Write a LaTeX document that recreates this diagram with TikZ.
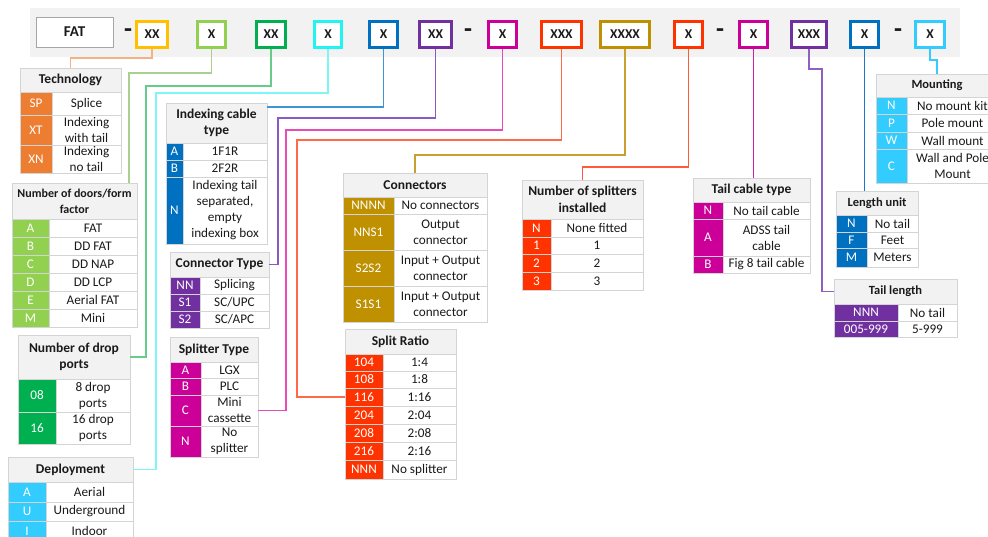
\documentclass[tikz,border=0pt]{standalone}
\usepackage{fontspec}
\setmainfont{Carlito}
\usetikzlibrary{calc}
\definecolor{gridc}{HTML}{D4D4D4}
\definecolor{hdrc}{HTML}{F2F2F2}
\definecolor{barc}{HTML}{F2F2F2}
\definecolor{txtc}{HTML}{1A1A1A}
\definecolor{corange}{HTML}{ED7D31}
\definecolor{cyellow}{HTML}{FFC000}
\definecolor{clgreen}{HTML}{92D050}
\definecolor{cgreen}{HTML}{00B050}
\definecolor{ccyan}{HTML}{22F4F4}
\definecolor{cblue}{HTML}{0070C0}
\definecolor{cpurple}{HTML}{7030A0}
\definecolor{cmag}{HTML}{CC0099}
\definecolor{cred}{HTML}{FF3300}
\definecolor{cgold}{HTML}{BF9000}
\definecolor{csky}{HTML}{33CCFF}
\definecolor{l1}{HTML}{F4B183}
\definecolor{l2}{HTML}{A9D18E}
\definecolor{l3}{HTML}{66CC88}
\definecolor{l4}{HTML}{7FF6F6}
\definecolor{l5}{HTML}{3E95D6}
\definecolor{l6}{HTML}{8B5AC0}
\definecolor{l7}{HTML}{E84BB8}
\definecolor{l8}{HTML}{FF6A45}
\definecolor{l9}{HTML}{C8A030}
\definecolor{l10}{HTML}{FF5A3C}
\definecolor{l11}{HTML}{D020A8}
\definecolor{l12}{HTML}{8E60C0}
\definecolor{l13}{HTML}{1A78C8}
\definecolor{l14}{HTML}{33CCFF}
\tikzset{
  tbase/.style={draw=gridc, line width=0.8pt, inner sep=0pt, outer sep=0pt, align=center, text=txtc, font=\fontsize{13.2}{16}\selectfont},
  thdr/.style={tbase, fill=hdrc, font=\bfseries\fontsize{12.5}{16}\selectfont},
  thdrL/.style={tbase, fill=hdrc, font=\bfseries\fontsize{13.5}{16.5}\selectfont},
  thdrS/.style={tbase, fill=hdrc, font=\bfseries\fontsize{12}{16}\selectfont},
  tval/.style={tbase, fill=white},
  tcode/.style={tbase, fill=#1, text=white},
  topb/.style={fill=white, line width=3pt, outer sep=1.5pt, minimum height=26pt, inner sep=0pt, text=txtc, font=\bfseries\fontsize{13.5}{15}\selectfont},
  dashn/.style={inner sep=0pt, text=txtc, font=\bfseries\fontsize{26}{26}\selectfont},
  lnk/.style={line width=1.5pt},
}
\newcommand\tcell[7]{%
  \pgfmathsetmacro\cw{#5-#3}\pgfmathsetmacro\ch{#6-#4}%
  \node[#1, anchor=north west, minimum width=\cw pt, minimum height=\ch pt] (#2) at (#3,#4) {#7};}
\newcommand\trow[9]{%
  \tcell{tcode=#1}{#2c}{#3}{#6}{#4}{#7}{#8}\tcell{tval}{#2v}{#4}{#6}{#5}{#7}{#9}}
\newcommand\tbox[5]{%
  \pgfmathsetmacro\bw{#3-#2-3}\pgfmathsetmacro\bx{(#2+#3)/2}%
  \node[topb, draw=#4, minimum width=\bw pt] (#1) at (\bx,34.5) {#5};}
\begin{document}
\begin{tikzpicture}[x=1pt,y=-1pt]
\useasboundingbox (0,0) rectangle (988,537);
\fill[white] (0,0) rectangle (988,537);
\fill[barc] (30,8) rectangle (960,57);
% top code boxes
\node[draw=gray!70, fill=white, line width=0.8pt, minimum width=77pt, minimum height=30pt, inner sep=0pt, outer sep=0pt, font=\bfseries\fontsize{15}{16}\selectfont, text=txtc] (fat) at (74.5,32) {FAT};
\node[dashn] (d1) at (128,33) {-};
\tbox{b1}{135}{169}{cyellow}{XX}
\tbox{b2}{196}{227}{clgreen}{X}
\tbox{b3}{255}{287}{cgreen}{XX}
\tbox{b4}{313}{343}{ccyan}{X}
\tbox{b5}{368}{399}{cblue}{X}
\tbox{b6}{418}{453}{cpurple}{XX}
\node[dashn] (d2) at (468,33) {-};
\tbox{b7}{487}{518}{cmag}{X}
\tbox{b8}{540}{583}{cred}{XXX}
\tbox{b9}{599}{651}{cgold}{XXXX}
\tbox{b10}{673}{704}{cred}{X}
\node[dashn] (d3) at (720,33) {-};
\tbox{b11}{738}{769}{cmag}{X}
\tbox{b12}{790}{828}{cpurple}{XXX}
\tbox{b13}{849}{880}{cblue}{X}
\node[dashn] (d4) at (898,33) {-};
\tbox{b14}{914}{946}{csky}{X}
% Technology
\tcell{thdrL}{techH}{20}{68}{121}{92}{Technology}
\trow{corange}{tSP}{20}{52}{121}{92}{115}{SP}{Splice}
\trow{corange}{tXT}{20}{52}{121}{115}{145}{XT}{Indexing\\with tail}
\trow{corange}{tXN}{20}{52}{121}{145}{173}{XN}{Indexing\\no tail}
% Doors
\tcell{thdrS}{doorsH}{12}{183}{137}{219}{Number of doors/form\\factor}
\trow{clgreen}{dA}{12}{49}{137}{219}{237}{A}{FAT}
\trow{clgreen}{dB}{12}{49}{137}{237}{255}{B}{DD FAT}
\trow{clgreen}{dC}{12}{49}{137}{255}{273}{C}{DD NAP}
\trow{clgreen}{dD}{12}{49}{137}{273}{291}{D}{DD LCP}
\trow{clgreen}{dE}{12}{49}{137}{291}{309}{E}{Aerial FAT}
\trow{clgreen}{dM}{12}{49}{137}{309}{327}{M}{Mini}
% Drop ports
\tcell{thdrL}{dropsH}{18}{335}{130}{379}{Number of drop\\ports}
\trow{cgreen}{p08}{18}{56}{130}{379}{412}{08}{8 drop\\ports}
\trow{cgreen}{p16}{18}{56}{130}{412}{444}{16}{16 drop\\ports}
% Deployment
\tcell{thdrL}{deplH}{8}{457}{133}{482}{Deployment}
\trow{csky}{eA}{8}{46}{133}{482}{502}{A}{Aerial}
\trow{csky}{eU}{8}{46}{133}{502}{521}{U}{Underground}
\trow{csky}{eI}{8}{46}{133}{521}{541}{I}{Indoor}
% Indexing cable type
\tcell{thdrL}{idxH}{166}{103}{267}{143}{Indexing cable\\type}
\trow{cblue}{iA}{166}{183}{267}{143}{160}{A}{1F1R}
\trow{cblue}{iB}{166}{183}{267}{160}{177}{B}{2F2R}
\trow{cblue}{iN}{166}{183}{267}{177}{244}{N}{Indexing tail\\separated,\\empty\\indexing box}
% Connector type
\tcell{thdrL}{ctH}{170}{252}{269}{277}{Connector Type}
\trow{cpurple}{cNN}{170}{200}{269}{277}{294}{NN}{Splicing}
\trow{cpurple}{cS1}{170}{200}{269}{294}{311}{S1}{SC/UPC}
\trow{cpurple}{cS2}{170}{200}{269}{311}{328}{S2}{SC/APC}
% Splitter type
\tcell{thdrL}{stH}{170}{337}{258}{362}{Splitter Type}
\trow{cmag}{sA}{170}{201}{258}{362}{378}{A}{LGX}
\trow{cmag}{sB}{170}{201}{258}{378}{395}{B}{PLC}
\trow{cmag}{sC}{170}{201}{258}{395}{426}{C}{Mini\\cassette}
\trow{cmag}{sN}{170}{201}{258}{426}{457}{N}{No\\splitter}
% Connectors
\tcell{thdrL}{conH}{343}{173}{487}{197}{Connectors}
\trow{cgold}{kA}{343}{394}{487}{197}{214}{NNNN}{No connectors}
\trow{cgold}{kB}{343}{394}{487}{214}{250}{NNS1}{Output\\connector}
\trow{cgold}{kC}{343}{394}{487}{250}{286}{S2S2}{Input + Output\\connector}
\trow{cgold}{kD}{343}{394}{487}{286}{322}{S1S1}{Input + Output\\connector}
% Split ratio
\tcell{thdrL}{srH}{345}{329}{456}{354}{Split Ratio}
\trow{cred}{r104}{345}{383}{456}{354}{371}{104}{1:4}
\trow{cred}{r108}{345}{383}{456}{371}{388}{108}{1:8}
\trow{cred}{r116}{345}{383}{456}{388}{406}{116}{1:16}
\trow{cred}{r204}{345}{383}{456}{406}{424}{204}{2:04}
\trow{cred}{r208}{345}{383}{456}{424}{442}{208}{2:08}
\trow{cred}{r216}{345}{383}{456}{442}{460}{216}{2:16}
\trow{cred}{rNNN}{345}{383}{456}{460}{479}{NNN}{No splitter}
% Number of splitters
\tcell{thdrL}{nsH}{522}{180}{643}{219}{Number of splitters\\installed}
\trow{cred}{nN}{522}{551}{643}{219}{237}{N}{None fitted}
\trow{cred}{n1}{522}{551}{643}{237}{254}{1}{1}
\trow{cred}{n2}{522}{551}{643}{254}{272}{2}{2}
\trow{cred}{n3}{522}{551}{643}{272}{290}{3}{3}
% Tail cable type
\tcell{thdrL}{tcH}{693}{178}{810}{202}{Tail cable type}
\trow{cmag}{cN}{693}{723}{810}{202}{219}{N}{No tail cable}
\trow{cmag}{cA}{693}{723}{810}{219}{256}{A}{ADSS tail\\cable}
\trow{cmag}{cB}{693}{723}{810}{256}{273}{B}{Fig 8 tail cable}
% Mounting
\tcell{thdr}{mtH}{876}{74}{998}{97}{Mounting}
\trow{csky}{mN}{876}{907}{998}{97}{114}{N}{No mount kit}
\trow{csky}{mP}{876}{907}{998}{114}{132}{P}{Pole mount}
\trow{csky}{mW}{876}{907}{998}{132}{149}{W}{Wall mount}
\trow{csky}{mC}{876}{907}{998}{149}{183}{C}{Wall and Pole\\Mount}
% Length unit
\tcell{thdr}{luH}{836}{191}{918}{215}{Length unit}
\trow{cblue}{uN}{836}{867}{918}{215}{232}{N}{No tail}
\trow{cblue}{uF}{836}{867}{918}{232}{248}{F}{Feet}
\trow{cblue}{uM}{836}{867}{918}{248}{267}{M}{Meters}
% Tail length
\tcell{thdr}{tlH}{834}{279}{957}{304}{Tail length}
\trow{cpurple}{lN}{834}{898}{957}{304}{321}{NNN}{No tail}
\trow{cpurple}{lR}{834}{898}{957}{321}{337}{005-999}{5-999}
% bend points
\coordinate (k3) at (146,86);
\coordinate (k4) at (156,93);
\coordinate (k6) at (278,118);
\coordinate (k7) at (286,130);
\coordinate (k8) at (297,140);
\coordinate (k12) at (822,69);
% connectors
\draw[lnk, l1] (b1.south) -- ++(0,9) -| (techH.north);
\draw[lnk, l2] (b2.south) -- ++(0,24) -| ([xshift=-8pt]doorsH.north east);
\draw[lnk, l3] (b3.south) |- (k3) |- (dropsH.east);
\draw[lnk, l4] (b4.south) |- (k4) |- (deplH.east);
\draw[lnk, l5] (b5.south) |- ([yshift=-4pt]idxH.north east);
\draw[lnk, l6] (b6.south) |- (k6) |- (ctH.east);
\draw[lnk, l7] (b7.south) |- (k7) |- (sCv.east);
\draw[lnk, l8] (b8.south) |- (k8) |- (r116c.west);
\draw[lnk, l9] (b9.south) -- ++(0,106) -| (conH.north);
\draw[lnk, l10] (b10.south) -- ++(0,118) -| (nsH.north);
\draw[lnk, l11] (b11.south) -- (b11.south |- tcH.north);
\draw[lnk, l12] (b12.south) |- (k12) |- (tlH.west);
\draw[lnk, l13] (b13.south) -- (b13.south |- luH.north);
\draw[lnk, l14] (b14.south) -- ++(0,11) -| (mtH.north);
\end{tikzpicture}
\end{document}
